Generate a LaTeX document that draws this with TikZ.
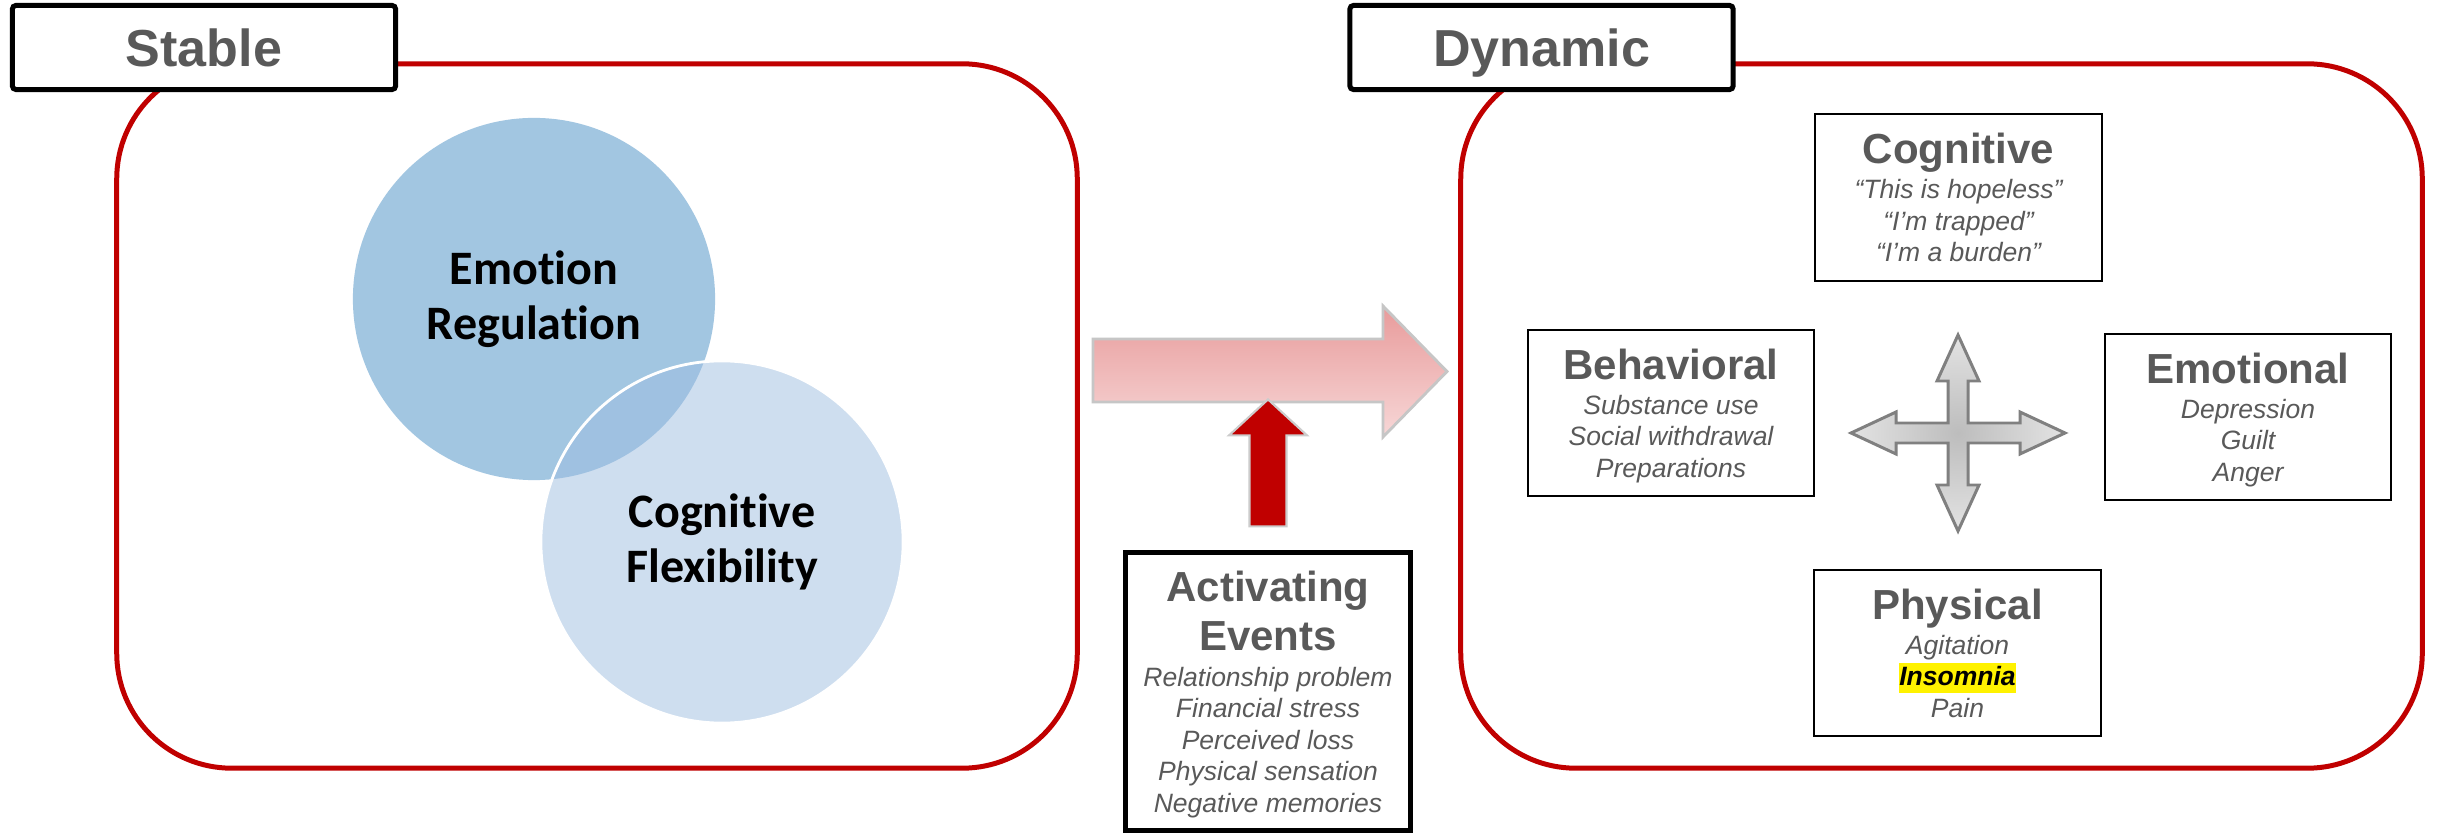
\documentclass[tikz,border=0pt]{standalone}
\usepackage{fontspec}
\setmainfont{Liberation Sans}
\newfontfamily\calibrifont[Ligatures={NoCommon}]{Carlito}
\usetikzlibrary{positioning}

\definecolor{framered}{RGB}{192,0,0}
\definecolor{labelgray}{RGB}{89,89,89}
\definecolor{emoblue}{RGB}{162,198,225}
\definecolor{flexblue}{RGB}{158,190,225}
\definecolor{flowtop}{RGB}{232,155,155}
\definecolor{flowbottom}{RGB}{247,215,215}

\newcommand\facetfont{\fontsize{7.54}{8.96}\selectfont\itshape\lineskiplimit=-100pt\relax}
\newcommand\facettitle{\fontsize{11.95}{8.96}\selectfont\upshape\bfseries}
\newcommand\hilite[1]{{\setlength{\fboxsep}{0pt}\colorbox{yellow}{\rule[-2pt]{0pt}{8.54pt}#1}}}

\begin{document}
\begin{tikzpicture}[
        x=0.01cm, y=-0.01cm,
        stageframe/.style={draw=framered, line width=1.42pt, rounded corners=1.15cm,
            minimum width=9.6cm, minimum height=7.04cm, inner sep=0pt},
        header/.style={draw, line width=1.42pt, fill=white, rounded corners=1pt,
            minimum width=3.83cm, minimum height=0.84cm, text=labelgray, text depth=0pt,
            font=\fontsize{14.8}{17}\selectfont\bfseries},
        emocircle/.style={circle, fill=emoblue, minimum size=3.62cm, inner sep=0pt, align=center,
            font=\calibrifont\fontsize{13.66}{15.65}\selectfont\bfseries},
        flexcircle/.style={emocircle, fill=flexblue, fill opacity=0.5, text opacity=1,
            draw=white, line width=0.8pt},
        facet/.style={draw, line width=0.57pt, minimum width=2.86cm, minimum height=1.66cm,
            align=center, text=labelgray, text depth=0pt, font=\facetfont},
        eventbox/.style={facet, line width=1.42pt, minimum width=2.85cm, minimum height=2.78cm},
        flowarrow/.style={draw=gray!45, line width=0.8pt, top color=flowtop, bottom color=flowbottom},
        triggerarrow/.style={draw=gray!40, line width=0.6pt, fill=framered},
        crossarrow/.style={draw=gray, line width=0.85pt, inner color=gray!52, outer color=gray!22},
    ]
    \path[use as bounding box, fill=white] (0,0) rectangle (2440,834);

    % stable side
    \node[stageframe] (stableframe) at (597,416) {};
    \node[header] (stable) at (204,47.5) {Stable};
    \node[emocircle] (emoreg) at (534,299) {Emotion\\Regulation};
    \node[flexcircle] (cogflex) at (722,542) {Cognitive\\Flexibility};

    % dynamic side
    \node[stageframe, minimum width=9.61cm] (dynframe) at (1941.5,416) {};
    \node[header] (dynamic) at (1541.5,47.5) {Dynamic};

    % flow and trigger
    \draw[flowarrow] (1093,339) -- (1383,339) -- (1383,306) -- (1447,371.5)
        -- (1383,437) -- (1383,402) -- (1093,402) -- cycle;
    \node[eventbox] (events) at (1268,691.5)
        {{\facettitle Activating}\\[4.98pt]{\facettitle Events}\\[1.28pt]Relationship problem\\
         Financial stress\\Perceived loss\\Physical sensation\\Negative memories};
    \draw[triggerarrow] (events.north) ++(-18.5,-23.5) -- ++(0,-91) -- ++(-20.5,0)
        -- ++(39,-36) -- ++(39,36) -- ++(-20.5,0) -- ++(0,91) -- cycle;

    % four facets round the hub
    \coordinate (hub) at (1958,433);
    \begin{scope}[shift={(hub)}]
        \draw[crossarrow] (0,-98) -- (21,-52) -- (10,-52) -- (10,-10) -- (62,-10) -- (62,-21)
            -- (107,0) -- (62,21) -- (62,10) -- (10,10) -- (10,52) -- (21,52) -- (0,98)
            -- (-21,52) -- (-10,52) -- (-10,10) -- (-62,10) -- (-62,21) -- (-107,0)
            -- (-62,-21) -- (-62,-10) -- (-10,-10) -- (-10,-52) -- (-21,-52) -- cycle;
    \end{scope}
    \node[facet] (cognitive) at (1958.5,197.5)
        {{\facettitle Cognitive}\\[1pt]“This is hopeless”\\“I’m trapped”\\“I’m a burden”};
    \node[facet] (behavioral) at (1671,413)
        {{\facettitle Behavioral}\\[1pt]Substance use\\Social withdrawal\\Preparations};
    \node[facet] (emotional) at (2248,417)
        {{\facettitle Emotional}\\[1pt]Depression\\Guilt\\Anger};
    \node[facet] (physical) at (1957.5,653)
        {{\facettitle Physical}\\[1pt]Agitation\\\hilite{\color{black}\bfseries Insomnia}\\Pain};
\end{tikzpicture}
\end{document}
